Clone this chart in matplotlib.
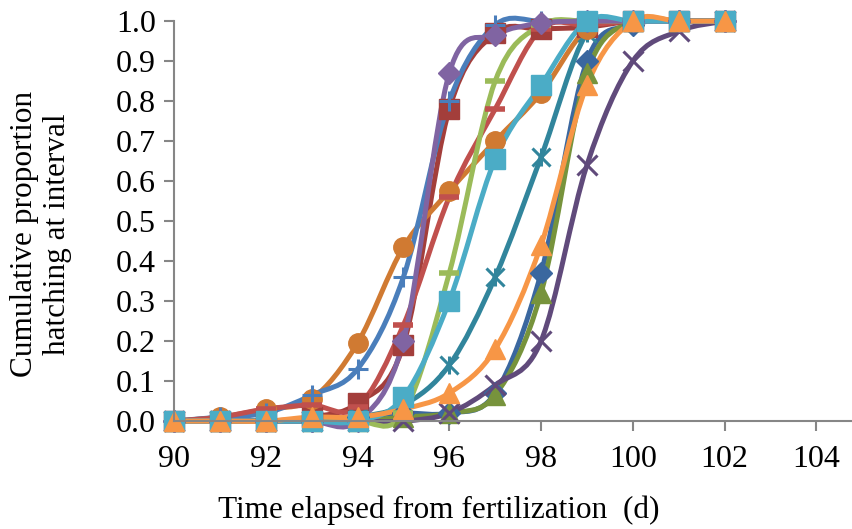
"""
Cumulative proportion of eggs hatching against time since fertilization,
one smoothed curve per group (Excel-style line chart with markers).
"""
import numpy as np
import matplotlib
matplotlib.use('Agg')
import matplotlib.pyplot as plt
from matplotlib.path import Path
from matplotlib.patches import PathPatch

days = [90, 91, 92, 93, 94, 95, 96, 97, 98, 99, 100, 101, 102]

# cumulative proportions, one list per group
dk_blue_diamond = [0.0, 0.0, 0.0, 0.0, 0.01, 0.02, 0.02, 0.07, 0.37, 0.90, 0.99, 1.0, 1.0]
dk_red_square = [0.0, 0.0, 0.0, 0.01, 0.045, 0.19, 0.78, 0.97, 0.98, 0.985, 1.0, 1.0, 1.0]
dk_green_triangle = [0.0, 0.0, 0.0, 0.0, 0.0, 0.01, 0.02, 0.065, 0.32, 0.87, 1.0, 1.0, 1.0]
dk_purple_x = [0.0, 0.0, 0.0, 0.0, 0.0, 0.0, 0.02, 0.09, 0.20, 0.64, 0.90, 0.975, 1.0]
dk_teal_star = [0.0, 0.0, 0.0, 0.0, 0.01, 0.04, 0.14, 0.36, 0.66, 0.97, 1.0, 1.0, 1.0]
dk_orange_circle = [0.0, 0.01, 0.03, 0.055, 0.195, 0.435, 0.575, 0.70, 0.82, 0.98, 1.0, 1.0, 1.0]
blue_plus = [0.0, 0.01, 0.02, 0.065, 0.13, 0.36, 0.80, 0.99, 1.0, 1.0, 1.0, 1.0, 1.0]
red_dash = [0.0, 0.01, 0.03, 0.04, 0.035, 0.24, 0.56, 0.78, 0.98, 0.99, 1.0, 1.0, 1.0]
green_dash = [0.0, 0.0, 0.0, 0.0, 0.0, 0.02, 0.37, 0.85, 0.99, 1.0, 1.0, 1.0, 1.0]
purple_diamond = [0.0, 0.0, 0.0, 0.0, 0.0, 0.20, 0.87, 0.965, 0.995, 1.0, 1.0, 1.0, 1.0]
aqua_square = [0.0, 0.0, 0.0, 0.0, 0.0, 0.06, 0.30, 0.655, 0.84, 1.0, 1.0, 1.0, 1.0]
orange_triangle = [0.0, 0.0, 0.0, 0.01, 0.01, 0.03, 0.07, 0.18, 0.44, 0.84, 1.0, 1.0, 1.0]

# (values, colour, marker) in drawing order
series = [
    (dk_blue_diamond, '#3a679f', 'D'),
    (dk_red_square, '#a33e3b', 's'),
    (dk_green_triangle, '#77933c', '^'),
    (dk_purple_x, '#604a7b', 'x'),
    (dk_teal_star, '#31859c', 'star'),
    (dk_orange_circle, '#d07a32', 'o'),
    (blue_plus, '#4a7ebb', '+'),
    (red_dash, '#c0504d', '_'),
    (green_dash, '#9bbb59', '_'),
    (purple_diamond, '#8064a2', 'D'),
    (aqua_square, '#4bacc6', 's'),
    (orange_triangle, '#f79646', '^'),
]


def smooth_path(x, y):
    """Excel-like smoothed line: cubic Bezier segments (Catmull-Rom handles)"""
    x = np.asarray(x, float)
    y = np.asarray(y, float)
    n = len(x)
    verts = [(x[0], y[0])]
    codes = [Path.MOVETO]
    for i in range(n - 1):
        i0 = max(i - 1, 0)
        i3 = min(i + 2, n - 1)
        c1 = (x[i] + (x[i + 1] - x[i0]) / 6., y[i] + (y[i + 1] - y[i0]) / 6.)
        c2 = (x[i + 1] - (x[i3] - x[i]) / 6., y[i + 1] - (y[i3] - y[i]) / 6.)
        verts += [c1, c2, (x[i + 1], y[i + 1])]
        codes += [Path.CURVE4] * 3
    return Path(verts, codes)


plt.rcParams['font.family'] = ['Liberation Serif', 'DejaVu Serif']

fig = plt.figure(figsize=(8.53, 5.29), dpi=100)
ax = fig.add_axes([0.204, 0.204, 0.796, 0.756])

for vals, col, mk in series:
    patch = PathPatch(smooth_path(days, vals), facecolor='none', edgecolor=col,
                      lw=3.6, capstyle='round', joinstyle='round', clip_on=False)
    ax.add_patch(patch)
    if mk == 'star':
        ax.plot(days, vals, ls='none', marker='x', ms=13, mew=2.2, color=col, clip_on=False)
        ax.plot(days, vals, ls='none', marker='|', ms=13, mew=2.2, color=col, clip_on=False)
    elif mk in ('x', '+'):
        ax.plot(days, vals, ls='none', marker=mk, ms=14, mew=2.2, color=col, clip_on=False)
    elif mk == '_':
        ax.plot(days, vals, ls='none', marker=mk, ms=15, mew=4.0, color=col, clip_on=False)
    elif mk == 'D':
        ax.plot(days, vals, ls='none', marker=mk, ms=11.5, color=col, mec=col, clip_on=False)
    else:
        ax.plot(days, vals, ls='none', marker=mk, ms=14, color=col, mec=col, clip_on=False)

ax.set_xlim(90, 104.8)
ax.set_ylim(0, 1.0)
ax.set_xticks(np.arange(90, 105, 2))
ax.set_yticks(np.arange(0, 1.01, 0.1))
ax.set_yticklabels(['%.1f' % v for v in np.arange(0, 1.01, 0.1)])

for side in ['top', 'right']:
    ax.spines[side].set_visible(False)
for side in ['left', 'bottom']:
    ax.spines[side].set_color('#868686')
    ax.spines[side].set_linewidth(1.5)
ax.tick_params(axis='both', colors='#868686', labelcolor='black', direction='out',
               length=7, width=1.5, labelsize=23)
ax.tick_params(axis='x', pad=10)
ax.tick_params(axis='y', pad=6)

fig.text(0.514, 0.036, 'Time elapsed from fertilization  (d)', fontsize=22.5,
         ha='center', va='center')
fig.text(0.048, 0.558, 'Cumulative proportion\nhatching at interval', fontsize=22.5,
         rotation=90, ha='center', va='center', multialignment='center')

fig.savefig('out.png', dpi=100)
